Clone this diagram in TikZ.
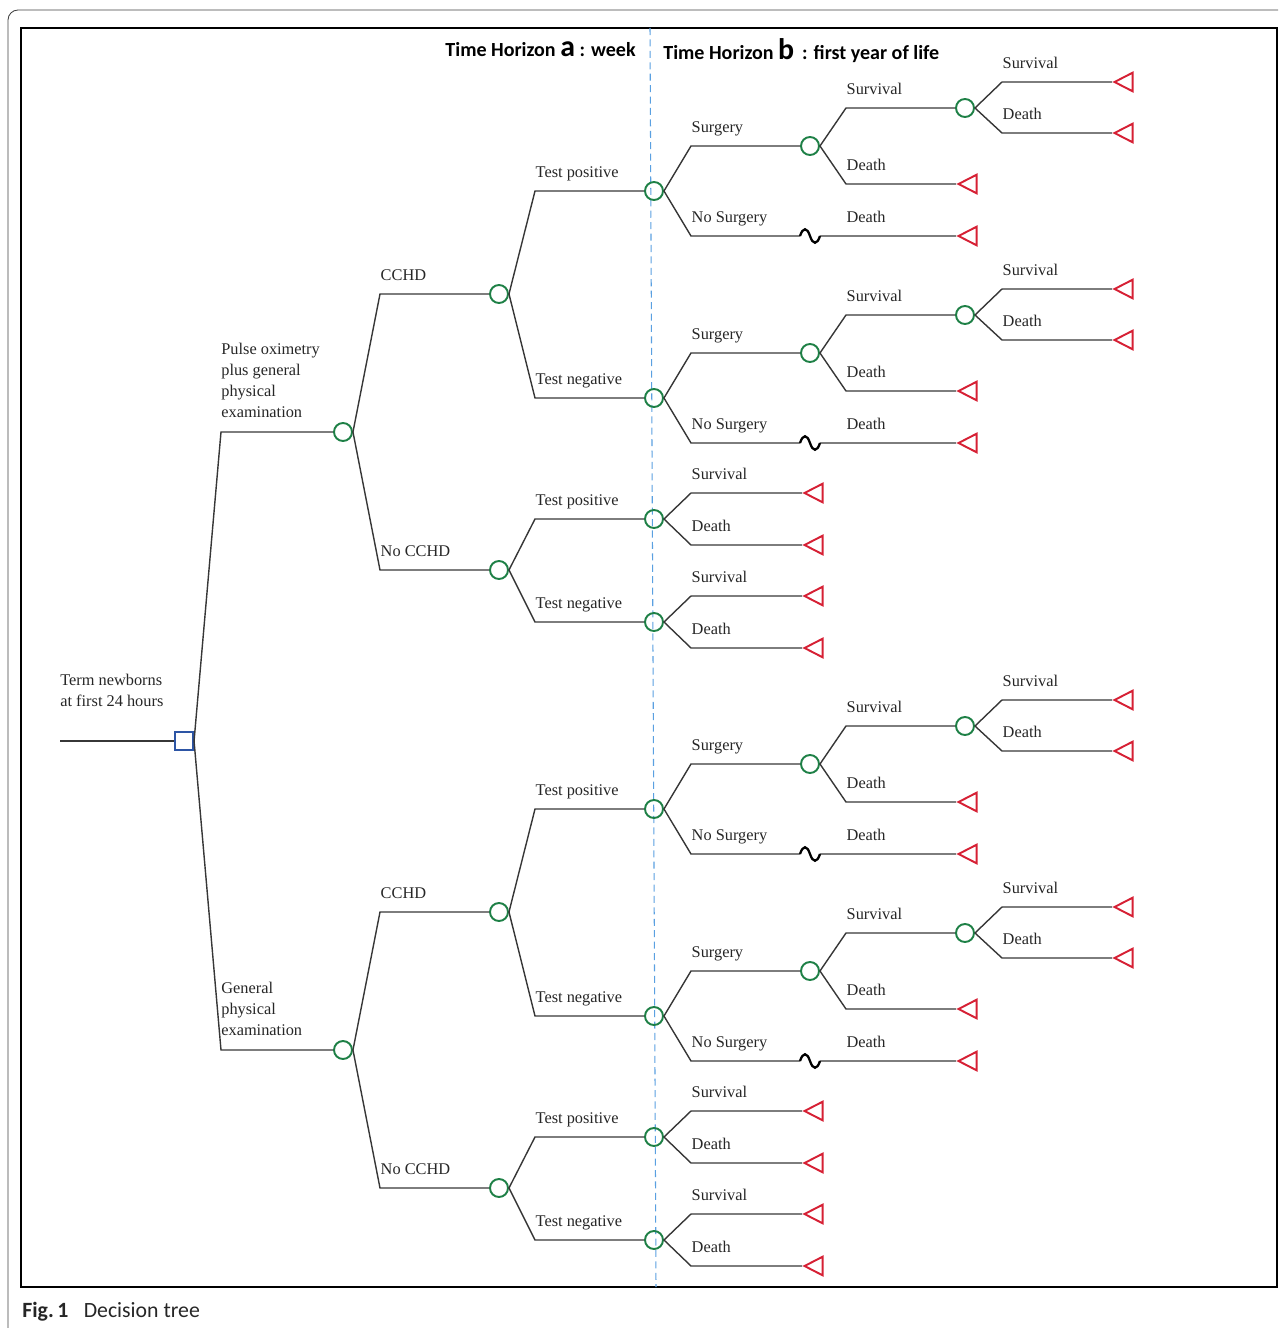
\documentclass[tikz,border=0pt]{standalone}
\usepackage{fontspec}
\usepackage{tikz}
\usetikzlibrary{shapes.geometric, calc}
\setmainfont{Liberation Serif}
\newfontfamily\headfont{Carlito}
\definecolor{chancec}{RGB}{30,128,70}
\definecolor{termc}{RGB}{214,32,52}
\definecolor{decc}{RGB}{45,85,165}
\definecolor{horizc}{RGB}{90,160,225}
\definecolor{edgec}{RGB}{55,55,55}

\begin{document}
\begin{tikzpicture}[x=0.02cm, y=-0.02cm,
  chancenode/.style={circle, draw=chancec, line width=1.1pt, minimum size=0.36cm, inner sep=0pt},
  termnode/.style={isosceles triangle, shape border rotate=180, isosceles triangle stretches,
    draw=termc, line width=1.1pt, minimum width=0.37cm, minimum height=0.36cm, inner sep=0pt, anchor=apex},
  decbox/.style={rectangle, draw=decc, line width=1.2pt, minimum size=0.36cm, inner sep=0pt},
  lbl/.style={font=\fontsize{9.3}{12}\selectfont, text=black!85, anchor=base west, inner sep=0pt, pos=0, yshift=0.28cm},
  lblm/.style={font=\fontsize{9.3}{12}\selectfont, text=black!85, anchor=south west, inner sep=0pt, align=left},
  branch/.style={draw=edgec, line width=0.8pt},
  squig/.style={draw=black, line width=1.3pt}]
  \useasboundingbox (0,0) rectangle (1278,1328);

  % frames
  \draw[black!75, line width=0.5pt, rounded corners=0.2cm] (8,1328) -- (8,10) -- (1278,10);
  \draw[line width=1.3pt] (21,28) rectangle (1277,1287);
  \draw[horizc, line width=0.6pt, dash pattern=on 4pt off 2.5pt] (650,28) -- (656,1287);

  % time horizons
  \node[anchor=base east, inner sep=0pt, font=\headfont\bfseries\fontsize{11.4}{13}\selectfont] (tha) at (636,57)
    {Time Horizon {\fontsize{17}{16}\selectfont a} : week};
  \node[anchor=base west, inner sep=0pt, font=\headfont\bfseries\fontsize{11.4}{13}\selectfont] (thb) at (663,60)
    {Time Horizon {\fontsize{17}{16}\selectfont b}\, : first year of life};

  % root decision
  \coordinate (start) at (60,741);
  \node[decbox] (root) at (184,741) {};
  \draw[branch] (start) -- (root);
  \node[lblm] at (60,707) {Term newborns\\at first 24 hours};

  \foreach \hv/\sh/\txt in {p/0/{Pulse oximetry\\plus general\\physical\\examination},
                            g/618/{General\\physical\\examination}} {
    \begin{scope}[shift={(0,\sh)}]
      \coordinate (\hv-e) at (221,432);
      \node[chancenode] (\hv) at (343,432) {};
      \draw[branch] (root.east) -- (\hv-e) -- (\hv);
      \node[lblm] at (221,418) {\txt};

      % CCHD / No CCHD
      \coordinate (\hv-c-e) at (380,294);
      \node[chancenode] (\hv-c) at (499,294) {};
      \draw[branch] (\hv.east) -- (\hv-c-e) -- node[lbl]{CCHD} (\hv-c);
      \coordinate (\hv-n-e) at (380,570);
      \node[chancenode] (\hv-n) at (499,570) {};
      \draw[branch] (\hv.east) -- (\hv-n-e) -- node[lbl]{No CCHD} (\hv-n);

      % tests after CCHD
      \foreach \tv/\ty/\tl in {1/-103/Test positive, 2/104/Test negative} {
        \pgfmathtruncatemacro{\Y}{294+\ty}
        \coordinate (\hv-c\tv-e) at (535,\Y);
        \node[chancenode] (\hv-c\tv) at (654,\Y) {};
        \draw[branch] (\hv-c.east) -- (\hv-c\tv-e) -- node[lbl]{\tl} (\hv-c\tv);
        % surgery
        \coordinate (\hv-c\tv-s-e) at (691,\Y-45);
        \node[chancenode] (\hv-c\tv-s) at (810,\Y-45) {};
        \draw[branch] (\hv-c\tv.east) -- (\hv-c\tv-s-e) -- node[lbl]{Surgery} (\hv-c\tv-s);
        \coordinate (\hv-c\tv-sv-e) at (846,\Y-83);
        \node[chancenode] (\hv-c\tv-sv) at (965,\Y-83) {};
        \draw[branch] (\hv-c\tv-s.east) -- (\hv-c\tv-sv-e) -- node[lbl]{Survival} (\hv-c\tv-sv);
        \foreach \ov/\oy/\ol in {1/-109/Survival, 2/-58/Death} {
          \coordinate (\hv-c\tv-sv\ov-e) at (1002,\Y+\oy);
          \node[termnode] (\hv-c\tv-sv\ov) at (1112,\Y+\oy) {};
          \draw[branch] (\hv-c\tv-sv.east) -- (\hv-c\tv-sv\ov-e) -- node[lbl]{\ol} (\hv-c\tv-sv\ov.apex);
        }
        \coordinate (\hv-c\tv-sd-e) at (846,\Y-7);
        \node[termnode] (\hv-c\tv-sd) at (956,\Y-7) {};
        \draw[branch] (\hv-c\tv-s.east) -- (\hv-c\tv-sd-e) -- node[lbl]{Death} (\hv-c\tv-sd.apex);
        % no surgery
        \coordinate (\hv-c\tv-n-e) at (691,\Y+45);
        \coordinate (\hv-c\tv-n-a) at (800,\Y+45);
        \coordinate (\hv-c\tv-n-b) at (820,\Y+45);
        \node[termnode] (\hv-c\tv-n) at (956,\Y+45) {};
        \draw[branch] (\hv-c\tv.east) -- (\hv-c\tv-n-e) -- node[lbl]{No Surgery} (\hv-c\tv-n-a)
          (\hv-c\tv-n-b) -- node[lbl, pos=0.19]{Death} (\hv-c\tv-n.apex);
        \draw[squig] (\hv-c\tv-n-a) .. controls +(3,-9) and +(-3,-9) .. ++(10,0)
          .. controls +(3,9) and +(-3,9) .. (\hv-c\tv-n-b);
      }

      % tests after No CCHD
      \foreach \tv/\ty/\tl in {1/-51/Test positive, 2/52/Test negative} {
        \pgfmathtruncatemacro{\Y}{570+\ty}
        \coordinate (\hv-n\tv-e) at (535,\Y);
        \node[chancenode] (\hv-n\tv) at (654,\Y) {};
        \draw[branch] (\hv-n.east) -- (\hv-n\tv-e) -- node[lbl]{\tl} (\hv-n\tv);
        \foreach \ov/\oy/\ol in {1/-26/Survival, 2/26/Death} {
          \coordinate (\hv-n\tv-\ov-e) at (691,\Y+\oy);
          \node[termnode] (\hv-n\tv-\ov) at (802,\Y+\oy) {};
          \draw[branch] (\hv-n\tv.east) -- (\hv-n\tv-\ov-e) -- node[lbl]{\ol} (\hv-n\tv-\ov.apex);
        }
      }
    \end{scope}
  }

  % caption
  \node[anchor=base west, inner sep=0pt, text=black!85, font=\headfont\fontsize{12.4}{14}\selectfont] (cap) at (22,1317)
    {\textbf{Fig.\,1}\hspace{0.7em}Decision tree};
\end{tikzpicture}
\end{document}
